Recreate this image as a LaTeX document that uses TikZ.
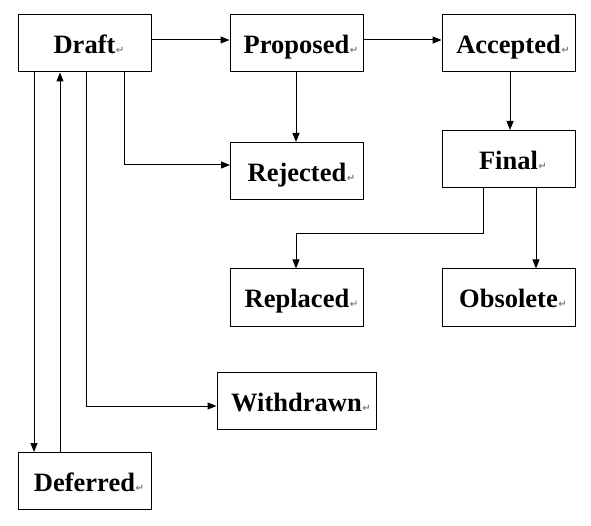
\documentclass[tikz,border=0pt]{standalone}
\usepackage{fontspec}
\setmainfont{Liberation Serif}
\newfontfamily\markfont{DejaVu Sans}
\usetikzlibrary{arrows.meta}
\newcommand{\retmark}{\rlap{\hspace{0.5pt}\textcolor{gray}{\markfont\fontsize{10}{10}\selectfont ↵}}}
\newcommand{\lbl}[1]{#1\retmark}
\tikzset{
  box/.style={draw, line width=1pt, minimum width=133pt, minimum height=57pt, inner sep=0pt,
    text height=21pt, text depth=0pt,
    font=\fontsize{26.5}{29}\selectfont\bfseries, anchor=center},
  conn/.style={line width=1pt, -{Triangle[length=9pt,width=7pt]}}
}
\begin{document}
\begin{tikzpicture}[x=1pt,y=-1pt]
\useasboundingbox (0,0) rectangle (591,526);
\node[box] (draft) at (84.5,43.5) {\lbl{Draft}};
\node[box] (proposed) at (296.5,43.5) {\lbl{Proposed}};
\node[box] (accepted) at (508.5,43.5) {\lbl{Accepted}};
\node[box] (rejected) at (297,171) {\lbl{Rejected}};
\node[box] (final) at (508.5,159) {\lbl{Final}};
\node[box] (replaced) at (297,297.5) {\lbl{Replaced}};
\node[box] (obsolete) at (508.5,297.5) {\lbl{Obsolete}};
\node[box, minimum width=159pt] (withdrawn) at (296.5,401) {\lbl{Withdrawn}};
\node[box] (deferred) at (84.5,481) {\lbl{Deferred}};

\coordinate (c1) at (124,165);
\coordinate (c2) at (483,234);
\coordinate (c3) at (296,234);
\coordinate (c4) at (86,406);

\draw[conn] (draft.east |- 0,40) -- (proposed.west |- 0,40);
\draw[conn] (proposed.east |- 0,40) -- (accepted.west |- 0,40);
\draw[conn] (proposed.south -| 296,0) -- (rejected.north -| 296,0);
\draw[conn] (draft.south -| c1) -- (c1) -- (rejected.west |- c1);
\draw[conn] (accepted.south -| 510,0) -- (final.north -| 510,0);
\draw[conn] (final.south -| c2) -- (c2) -- (c3) -- (replaced.north -| c3);
\draw[conn] (final.south -| 536,0) -- (obsolete.north -| 536,0);
\draw[conn] (draft.south -| c4) -- (c4) -- (withdrawn.west |- c4);
\draw[conn] (draft.south -| 34,0) -- (deferred.north -| 34,0);
\draw[conn] (deferred.north -| 60,0) -- (draft.south -| 60,0);
\end{tikzpicture}
\end{document}
